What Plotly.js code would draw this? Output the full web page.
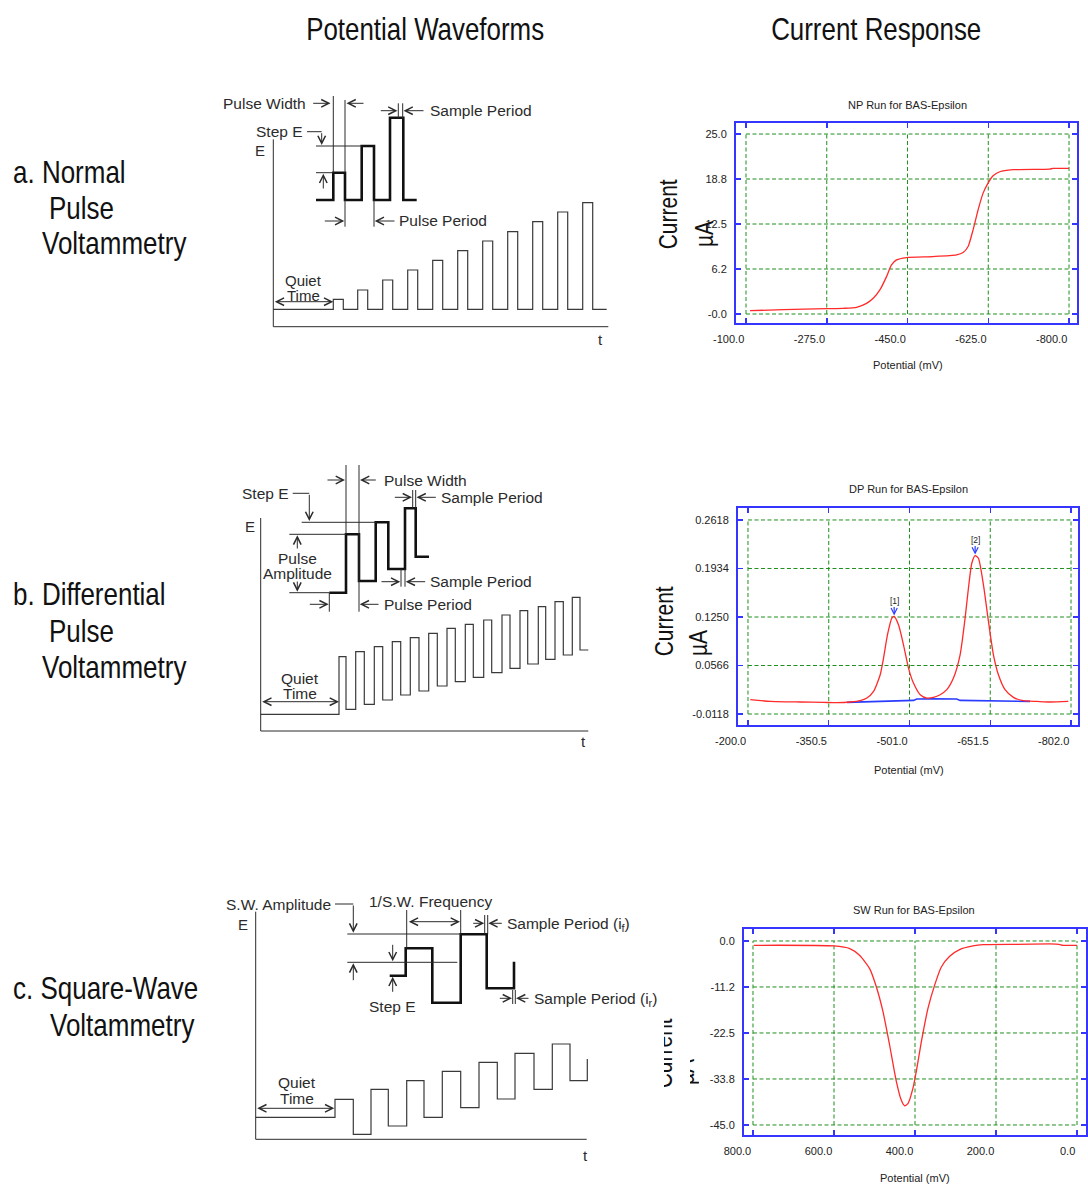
<!DOCTYPE html>
<html>
<head>
<meta charset="utf-8">
<script src="https://cdn.plot.ly/plotly-3.0.1.min.js"></script>
<style>
  html, body { margin: 0; padding: 0; background: #ffffff; }
  #chart { width: 1088px; height: 1186px; }
</style>
</head>
<body>
<div id="chart"></div>
<script>
// ---------------- Potential waveforms (schematic, t / E in drawing units) ----------------
// a. Normal pulse
const npBaseLevel = 17.4;
const npPulseStart = [60, 84.4, 109.4, 134.4, 159.4, 184.4, 209.4, 234.4, 259.4, 284.4, 309.4];
const npPulseEnd   = [70, 94.4, 119.4, 144.4, 169.4, 194.4, 219.4, 244.4, 269.4, 294.4, 319.4];
const npPulseTop   = [27.4, 36.7, 46.7, 56.7, 66.4, 76, 85.7, 95, 105, 114.7, 124];
const npEndTime = 333.4;
const npDetailBase = 126.7;
const npDetailStart = 42.7;
const npDetailPulseStart = [60, 88.4, 116.7];
const npDetailPulseEnd   = [71.7, 100.7, 130];
const npDetailPulseTop   = [154, 180.7, 209];
const npDetailEnd = 143.4;

// b. Differential pulse
const dpBaseLevel = 16.7;
const dpRiseTime = [78.3, 95, 113.6, 131.6, 149.6, 168, 186.3, 204.6, 223, 241.3, 259.3, 277.6, 294.3, 311.6];
const dpFallTime = [85.3, 103.6, 122, 140, 158.3, 176.6, 194.6, 212.6, 231, 249.3, 267, 285, 302.6, 319.3];
const dpTopLevel = [74.3, 79.3, 84.3, 89.3, 93.3, 97.7, 102.7, 106.7, 111, 116, 120.3, 124.3, 129.3, 133.7];
const dpLowLevel = [21.7, 26.7, 31, 36, 40, 45, 49.3, 53.7, 58.3, 62.7, 67, 71.7, 76, 81];
const dpEndTime = 327.6;
const dpDetailBase = 138.3;
const dpDetailStart = 68.6;
const dpDetailRise = [85.3, 115, 144.3];
const dpDetailFall = [98.3, 127.6, 155];
const dpDetailTop  = [196.7, 208.7, 222.7];
const dpDetailLow  = [150, 162, 174.3];
const dpDetailEnd = 168.3;

// c. Square wave
const swBaseLevel = 22;
const swEdgeTime = [79.3, 97.6, 115.3, 132.6, 151, 168.3, 186.6, 205, 223.3, 241.6, 259.3, 278.3, 296.6, 314.3, 331.6];
const swLevel    = [40, 5, 50, 13.3, 58.7, 22, 68, 31.7, 77, 40.3, 86, 50, 95.3, 58.7, 80.3];
const swDetailStart = 134;
const swDetailBase = 163.6;
const swDetailEdgeTime = [150, 176.6, 205, 231, 258.3];
const swDetailLevel    = [191, 136.6, 205, 151, 177.6];

// ---------------- Current responses ----------------
const npPotential = [-108.7, -180.8, -274.6, -310.7, -339.6, -361.2, -375.7, -390.1, -404.5, -415.3, -426.2, -447.8,
  -505.5, -556, -570.5, -581.3, -592.1, -603, -613.8, -624.6, -635.4, -649.9, -678.7, -758, -765.3, -800];
const npCurrent = [0.46, 0.60, 0.74, 0.79, 0.93, 1.48, 2.18, 3.34, 5.19, 6.82, 7.51, 7.84,
  7.98, 8.21, 8.53, 9.37, 11.69, 14.47, 16.79, 18.18, 19.2, 19.76, 20.04, 20.13, 20.22, 20.22];
const npTickX = [-100, -275, -450, -625, -800];
const npTickXText = ['-100.0', '-275.0', '-450.0', '-625.0', '-800.0'];
const npTickY = [0, 6.25, 12.5, 18.75, 25];
const npTickYText = ['-0.0', '6.2', '12.5', '18.8', '25.0'];

const dpPotential = [-204.3, -241.6, -297.4, -340.9, -365.7, -390.5, -409.1, -421.6, -434, -446.4, -452.6, -460, -468.1,
  -472.4, -480.5, -489.8, -499.1, -508.4, -520.9, -533.3, -545.7, -558.1, -570.5, -582.9, -595.3, -604.6, -610.8,
  -617.1, -623.3, -629.4, -638.8, -648.1, -657.4, -666.7, -679.1, -694.6, -713.2, -738.1, -762.9, -797];
const dpCurrent = [0.0084, 0.0060, 0.0051, 0.0046, 0.0042, 0.0051, 0.0070, 0.0107, 0.0201, 0.0436, 0.0670, 0.1000, 0.1234,
  0.1257, 0.1140, 0.0858, 0.0530, 0.0318, 0.0154, 0.0107, 0.0117, 0.0154, 0.0225, 0.0389, 0.0717, 0.1234, 0.1656,
  0.2008, 0.2116, 0.2078, 0.1703, 0.1187, 0.0717, 0.0436, 0.0225, 0.0117, 0.0070, 0.0060, 0.0051, 0.0060];
const dpBaselinePotential = [-384.3, -452.6, -508.4, -514.6, -545.7, -589, -595.3, -725.6];
const dpBaselineCurrent = [0.0046, 0.0060, 0.0074, 0.0093, 0.0098, 0.0093, 0.0074, 0.0060];
const dpPeakLabels = ['[1]', '[2]'];
const dpTickX = [-200, -350.5, -501, -651.5, -802];
const dpTickXText = ['-200.0', '-350.5', '-501.0', '-651.5', '-802.0'];
const dpTickY = [-0.0118, 0.0566, 0.125, 0.1934, 0.2618];
const dpTickYText = ['-0.0118', '0.0566', '0.1250', '0.1934', '0.2618'];

const swPotential = [798, 600, 561, 537, 512, 495.5, 479, 462.6, 446, 434, 425.5, 417, 405, 397, 384.4, 368,
  351.5, 335, 314.4, 290, 257, 232, 150, 67.5, 44.5, 34.6, 0];
const swCurrent = [-1.06, -1.22, -1.87, -3.5, -6.75, -11.2, -17.3, -25.5, -34.4, -38.9, -40.3, -39.7, -36.0, -32.0, -24.7, -16.5,
  -10.8, -6.35, -3.74, -2.1, -1.22, -0.9, -0.81, -0.73, -0.81, -1.06, -1.06];
const swTickX = [800, 600, 400, 200, 0];
const swTickXText = ['800.0', '600.0', '400.0', '200.0', '0.0'];
const swTickY = [-45, -33.75, -22.5, -11.25, 0];
const swTickYText = ['-45.0', '-33.8', '-22.5', '-11.2', '0.0'];

// ---------------- helpers ----------------
const W = 1088, H = 1186;
const px = x => x / W;
const py = y => 1 - y / H;
const FONT = '"Liberation Sans", Arial, Helvetica, sans-serif';
const INK = '#2b2b2b';
const BLUE = '#3535ff';
const GREEN = '#1f8f1f';
const RED = '#ff2a2a';
const NARROW = 0.82;   // horizontal condensing for the large narrow-style captions

const annotations = [];
const shapes = [];
const condensed = [];  // annotation indices drawn with condensed glyphs

function label(text, x, y, opts) {
  annotations.push(Object.assign({
    xref: 'paper', yref: 'paper', x: px(x), y: py(y), text: text, showarrow: false,
    xanchor: 'center', yanchor: 'middle',
    font: { family: FONT, size: 15.5, color: INK }
  }, opts || {}));
  return annotations.length - 1;
}
function bigLabel(text, x, y, size, opts) {
  const o = Object.assign({ font: { family: FONT, size: size, color: '#111' } }, opts || {});
  const i = label(text, x, y, o);
  condensed.push({ i: i, left: o.xanchor === 'left' });
}
function arrow(x0, y0, x1, y1, both) {
  annotations.push({
    xref: 'paper', yref: 'paper', x: px(x1), y: py(y1), ax: x0 - x1, ay: y0 - y1,
    text: '', showarrow: true, arrowhead: 5, arrowsize: 1.5, arrowwidth: 1, arrowcolor: INK,
    standoff: 0, startstandoff: 0, arrowside: both ? 'end+start' : 'end',
    startarrowhead: 5, startarrowsize: 1.5
  });
}
function seg(x0, y0, x1, y1, w) {
  shapes.push({ type: 'line', xref: 'paper', yref: 'paper', x0: px(x0), y0: py(y0), x1: px(x1), y1: py(y1),
    line: { color: INK, width: w || 1 } });
}

// step polyline from a start level and a list of edges
function stepLine(t0, base, edgeT, levels, tEnd) {
  const xs = [t0], ys = [base];
  let cur = base;
  for (let i = 0; i < edgeT.length; i++) {
    xs.push(edgeT[i], edgeT[i]);
    ys.push(cur, levels[i]);
    cur = levels[i];
  }
  if (tEnd !== undefined) { xs.push(tEnd); ys.push(cur); }
  return { x: xs, y: ys };
}
function interleave(a, b) { const out = []; a.forEach((v, i) => { out.push(v, b[i]); }); return out; }
function pulseLevels(tops, base) { return interleave(tops, tops.map(() => base)); }

// diagram axes: 1 unit = 1 px, origin at the E/t axes corner
function diagAxes(ox, oy, bx0, bx1, by0, by1) {
  return [
    { domain: [px(bx0), px(bx1)], range: [bx0 - ox, bx1 - ox], visible: false, fixedrange: true },
    { domain: [py(by1), py(by0)], range: [oy - by1, oy - by0], visible: false, fixedrange: true }
  ];
}

function responseAxes(frameX0, frameX1, frameY0, frameY1, xr, yr, tx, ttx, ty, tty, anchorX, anchorY) {
  const common = {
    ticks: 'inside', ticklen: 5, tickwidth: 1.5, tickcolor: BLUE,
    showline: true, linecolor: BLUE, linewidth: 2, mirror: 'ticks',
    showgrid: false, zeroline: false, fixedrange: true,
    tickfont: { family: FONT, size: 11, color: '#222' }
  };
  return [
    Object.assign({}, common, { domain: [px(frameX0), px(frameX1)], range: xr, anchor: anchorY,
      tickmode: 'array', tickvals: tx, ticktext: ttx, ticklabelposition: 'outside left', ticklabelstandoff: 5 }),
    Object.assign({}, common, { domain: [py(frameY1), py(frameY0)], range: yr, anchor: anchorX,
      tickmode: 'array', tickvals: ty, ticktext: tty, ticklabelstandoff: 5 })
  ];
}

function gridShapes(xref, yref, tx, ty) {
  tx.forEach(v => shapes.push({ type: 'line', xref: xref, yref: yref, x0: v, x1: v, y0: ty[0], y1: ty[ty.length - 1],
    layer: 'below', line: { color: GREEN, width: 1, dash: '4px,2.5px' } }));
  ty.forEach(v => shapes.push({ type: 'line', xref: xref, yref: yref, y0: v, y1: v, x0: tx[0], x1: tx[tx.length - 1],
    layer: 'below', line: { color: GREEN, width: 1, dash: '4px,2.5px' } }));
}

// ---------------- traces ----------------
const traces = [];
function addLine(xy, xa, ya, color, width, smooth) {
  traces.push({ x: xy.x, y: xy.y, xaxis: xa, yaxis: ya, mode: 'lines', hoverinfo: 'skip', showlegend: false,
    line: Object.assign({ color: color, width: width }, smooth ? { shape: 'spline', smoothing: 0.6 } : {}) });
}

// response curves
addLine({ x: npPotential, y: npCurrent }, 'x', 'y', RED, 1.3, true);
addLine({ x: dpBaselinePotential, y: dpBaselineCurrent }, 'x2', 'y2', '#2a3cff', 1.6, false);
addLine({ x: dpPotential, y: dpCurrent }, 'x2', 'y2', RED, 1.3, true);
addLine({ x: swPotential, y: swCurrent }, 'x3', 'y3', RED, 1.3, true);

// waveforms
addLine(stepLine(0, npBaseLevel, interleave(npPulseStart, npPulseEnd), pulseLevels(npPulseTop, npBaseLevel), npEndTime), 'x4', 'y4', '#3a3a3a', 1.2);
addLine(stepLine(npDetailStart, npDetailBase, interleave(npDetailPulseStart, npDetailPulseEnd), pulseLevels(npDetailPulseTop, npDetailBase), npDetailEnd), 'x4', 'y4', '#111', 2.6);

addLine(stepLine(0, dpBaseLevel, interleave(dpRiseTime, dpFallTime), interleave(dpTopLevel, dpLowLevel), dpEndTime), 'x5', 'y5', '#3a3a3a', 1.2);
addLine(stepLine(dpDetailStart, dpDetailBase, interleave(dpDetailRise, dpDetailFall), interleave(dpDetailTop, dpDetailLow), dpDetailEnd), 'x5', 'y5', '#111', 2.6);

addLine(stepLine(0, swBaseLevel, swEdgeTime, swLevel), 'x6', 'y6', '#3a3a3a', 1.2);
addLine(stepLine(swDetailStart, swDetailBase, swDetailEdgeTime, swDetailLevel), 'x6', 'y6', '#111', 2.6);

// ---------------- response panels: grid, titles ----------------
gridShapes('x', 'y', npTickX, npTickY);
gridShapes('x2', 'y2', dpTickX, dpTickY);
gridShapes('x3', 'y3', swTickX, swTickY);

const small = { family: FONT, size: 11, color: '#222' };
label('NP Run for BAS-Epsilon', 907, 105, { font: small });
label('Potential (mV)', 908, 365, { font: small });
label('DP Run for BAS-Epsilon', 908, 489, { font: small });
label('Potential (mV)', 909, 770, { font: small });
label('SW Run for BAS-Epsilon', 914, 910, { font: small });
label('Potential (mV)', 915, 1178, { font: small });

const titleSize = 25.6;
bigLabel('Current', 668, 215, titleSize, { textangle: -90 });
bigLabel('µA', 704, 234, titleSize, { textangle: -90 });
bigLabel('Current', 664, 622, titleSize, { textangle: -90 });
bigLabel('µA', 698, 643, titleSize, { textangle: -90 });
bigLabel('Current', 670, 1054, titleSize, { textangle: -90, height: 13, valign: 'bottom' });
bigLabel('µA', 694, 1072, titleSize, { textangle: -90, height: 9, valign: 'bottom' });

// peak markers on the differential pulse curve
let peakNo = 0;
for (let i = 1; i < dpCurrent.length - 1; i++) {
  if (dpCurrent[i] > 0.05 && dpCurrent[i] >= dpCurrent[i - 1] && dpCurrent[i] >= dpCurrent[i + 1]) {
    annotations.push({ xref: 'x2', yref: 'y2', x: dpPotential[i], y: dpCurrent[i], text: dpPeakLabels[peakNo++],
      showarrow: true, arrowhead: 5, arrowsize: 1, arrowwidth: 1.2, arrowcolor: '#2a3cff', ax: 0, ay: -16, standoff: 1,
      font: { family: FONT, size: 8.5, color: '#222' } });
  }
}

// ---------------- headers and row labels ----------------
bigLabel('Potential Waveforms', 425, 29, 31.6);
bigLabel('Current Response', 876, 29, 31.6);
[['a. Normal', 11, 172], ['Pulse', 47, 208], ['Voltammetry', 40, 243],
 ['b. Differential', 11, 594], ['Pulse', 47, 631], ['Voltammetry', 40, 667],
 ['c. Square-Wave', 11, 988], ['Voltammetry', 48, 1025]].forEach(r =>
  bigLabel(r[0], r[1], r[2], 31.7, { xanchor: 'left' }));

// ---------------- a. NPV diagram annotations ----------------
const axisLetter = { font: { family: FONT, size: 15, color: INK } };
seg(273.3, 139.3, 273.3, 326.7);
seg(273.3, 326.7, 608.3, 326.7);
label('E', 260, 150, axisLetter);
label('t', 600, 339.3, axisLetter);
label('Pulse Width', 308.3, 103.3, { xanchor: 'right' });
arrow(311.7, 103.3, 330.5, 103.3);
arrow(365, 103.3, 346.5, 103.3);
seg(333.3, 96, 333.3, 172.7);
seg(345, 100, 345, 172.7);
label('Sample Period', 428.3, 110.7, { xanchor: 'left' });
arrow(379.3, 110.7, 397.5, 110.7);
seg(398.3, 103.3, 398.3, 118.3);
seg(402.7, 103.3, 402.7, 118.3);
arrow(425, 110.7, 403.5, 110.7);
label('Step E', 305, 131.7, { xanchor: 'right' });
seg(307, 131.7, 321.7, 131.7);
arrow(321.7, 131.7, 321.7, 145);
seg(316, 146, 361.7, 146);
seg(316, 172.7, 333.3, 172.7);
arrow(323.3, 190, 323.3, 173.7);
label('Pulse Period', 397.3, 221, { xanchor: 'left' });
arrow(323.3, 221, 344.3, 221);
arrow(396, 221, 374.7, 221);
seg(345, 200, 345, 226.7);
seg(374, 200, 374, 226.7);
arrow(273.3, 301.7, 333.3, 301.7, true);
label('Quiet', 303.3, 281, { font: { family: FONT, size: 15, color: INK } });
label('Time', 303.3, 295.5, { font: { family: FONT, size: 15, color: INK } });

// ---------------- b. DPV diagram annotations ----------------
seg(260.7, 518, 260.7, 731);
seg(260.7, 731, 588.3, 731);
label('E', 250, 526.7, axisLetter);
label('t', 583.3, 741.7, axisLetter);
seg(301.7, 522.3, 375.7, 522.3);
seg(289.3, 534.3, 346, 534.3);
seg(289.3, 592.7, 329.3, 592.7);
arrow(297.3, 550, 297.3, 535.3);
arrow(297.3, 580, 297.3, 591.7);
label('Pulse', 297.5, 558.3);
label('Amplitude', 297.5, 573.3);
label('Step E', 290.7, 493.3, { xanchor: 'right' });
seg(292.7, 493.3, 309.3, 493.3);
arrow(309.3, 493.3, 309.3, 521);
seg(346, 465, 346, 534.3);
seg(359, 465, 359, 611.7);
arrow(326, 480, 345, 480);
arrow(377.3, 480, 360, 480);
label('Pulse Width', 381.7, 480, { xanchor: 'left' });
arrow(393.3, 497.3, 412, 497.3);
seg(412.7, 490, 412.7, 508.3);
seg(415.7, 490, 415.7, 508.3);
arrow(437.3, 497.3, 416.5, 497.3);
label('Sample Period', 439, 497.3, { xanchor: 'left' });
arrow(380, 581.7, 400.3, 581.7);
seg(401, 569, 401, 586.7);
seg(405, 569, 405, 586.7);
arrow(426.7, 581.7, 405.7, 581.7);
label('Sample Period', 428.3, 581.7, { xanchor: 'left' });
arrow(308.3, 604.3, 328.7, 604.3);
seg(329.3, 592.7, 329.3, 611.7);
arrow(380, 604.3, 359.7, 604.3);
label('Pulse Period', 381.7, 604.3, { xanchor: 'left' });
arrow(260.7, 701.7, 339, 701.7, true);
label('Quiet', 300, 678.3);
label('Time', 300, 693.3);

// ---------------- c. SWV diagram annotations ----------------
seg(255.7, 911.7, 255.7, 1139.3);
seg(255.7, 1139.3, 586.7, 1139.3);
label('E', 242.7, 924, axisLetter);
label('t', 585, 1155, axisLetter);
seg(347.3, 934, 460.7, 934);
seg(347.3, 962.3, 457.3, 962.3);
label('S.W. Amplitude', 333.3, 904, { xanchor: 'right' });
seg(335, 904, 353.3, 904);
arrow(353.3, 904, 353.3, 932.7);
arrow(353.3, 981.7, 353.3, 963.3);
arrow(392.7, 943.3, 392.7, 961.3);
arrow(392.7, 993.3, 392.7, 976.7);
label('Step E', 392.7, 1006);
label('1/S.W. Frequency', 430, 901);
arrow(407.3, 921.7, 460, 921.7, true);
seg(406.7, 910, 406.7, 948.3);
seg(460.7, 910, 460.7, 933.3);
arrow(471.7, 923.3, 484.3, 923.3);
seg(484.7, 915, 484.7, 934.3);
seg(487.7, 915, 487.7, 934.3);
arrow(503.3, 923.3, 488.3, 923.3);
label('Sample Period (i<sub>f</sub>)', 505, 924, { xanchor: 'left' });
arrow(498.3, 998.3, 512, 998.3);
seg(512.7, 990, 512.7, 1004);
seg(515.3, 990, 515.3, 1004);
arrow(530, 998.3, 516, 998.3);
label('Sample Period (i<sub>r</sub>)', 531.7, 999.5, { xanchor: 'left' });
arrow(255.7, 1108.3, 334.3, 1108.3, true);
label('Quiet', 296.7, 1082.3);
label('Time', 296.7, 1098.3);

// ---------------- layout ----------------
const [npX, npY] = responseAxes(736, 1077, 123, 323, [-78.3, -817.3], [-1.25, 26.53], npTickX, npTickXText, npTickY, npTickYText, 'x', 'y');
const [dpX, dpY] = responseAxes(738, 1078, 508, 725, [-181.4, -815.0], [-0.0273, 0.2787], dpTickX, dpTickXText, dpTickY, dpTickYText, 'x2', 'y2');
const [swX, swY] = responseAxes(744, 1086, 929, 1135, [822.2, -22.2], [-47.45, 2.93], swTickX, swTickXText, swTickY, swTickYText, 'x3', 'y3');
const [d1x, d1y] = diagAxes(273.3, 326.7, 245, 625, 88, 348);
const [d2x, d2y] = diagAxes(260.7, 731, 240, 600, 460, 750);
const [d3x, d3y] = diagAxes(255.7, 1139.3, 235, 600, 880, 1165);
d1x.anchor = 'y4'; d1y.anchor = 'x4';
d2x.anchor = 'y5'; d2y.anchor = 'x5';
d3x.anchor = 'y6'; d3y.anchor = 'x6';

const layout = {
  width: W, height: H,
  margin: { l: 0, r: 0, t: 0, b: 0, pad: 0 },
  paper_bgcolor: '#ffffff', plot_bgcolor: 'rgba(0,0,0,0)',
  showlegend: false,
  font: { family: FONT, color: INK },
  xaxis: npX, yaxis: npY,
  xaxis2: dpX, yaxis2: dpY,
  xaxis3: swX, yaxis3: swY,
  xaxis4: d1x, yaxis4: d1y,
  xaxis5: d2x, yaxis5: d2y,
  xaxis6: d3x, yaxis6: d3y,
  shapes: shapes,
  annotations: annotations
};

// condense the large captions horizontally (narrow-face look), keeping left edges or centres fixed
function condenseCaptions(gd) {
  condensed.forEach(c => {
    const t = gd.querySelector('.annotation[data-index="' + c.i + '"] text.annotation-text');
    if (!t) return;
    const bb = t.getBBox();
    const cx = c.left ? bb.x : bb.x + bb.width / 2;
    const prev = t.getAttribute('transform') || '';
    t.setAttribute('transform', (prev + ' translate(' + cx + ',0) scale(' + NARROW + ',1) translate(' + (-cx) + ',0)').trim());
  });
}

Plotly.newPlot('chart', traces, layout, { staticPlot: true, displayModeBar: false }).then(condenseCaptions);
</script>
</body>
</html>
